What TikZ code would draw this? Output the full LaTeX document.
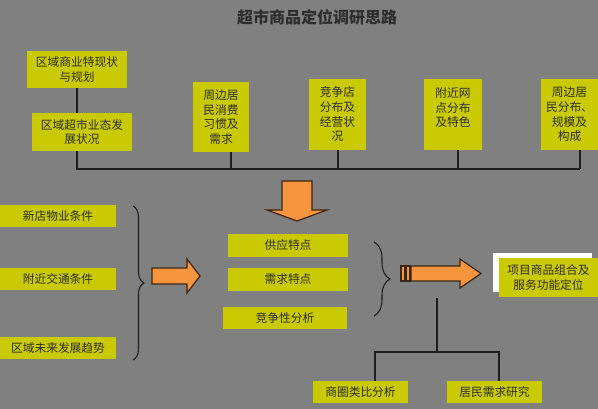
\documentclass[tikz,border=0pt]{standalone}
\usepackage{fontspec}
\newfontfamily\cjk{Noto Sans CJK SC}
\usepackage{tikz}
\usetikzlibrary{calc,decorations.pathreplacing}
\def\px{0.75pt}
\definecolor{bggray}{HTML}{808080}
\definecolor{boxyellow}{HTML}{CACA02}
\definecolor{boxtext}{HTML}{2E2E2E}
\definecolor{arroworange}{HTML}{F7943E}
\definecolor{arrowedge}{HTML}{3A2614}
\definecolor{linkgray}{HTML}{1E1E1E}
\tikzset{
	box/.style={fill=boxyellow, text=boxtext, inner sep=0pt, align=center,
		font=\cjk\fontsize{8.8}{11}\selectfont},
	link/.style={draw=linkgray, line width=1.3pt},
	bigarrow/.style={fill=arroworange, draw=arrowedge, line width=0.9pt, line join=miter},
	curly/.style={draw=linkgray, line width=0.8pt, decorate, decoration={brace, amplitude=#1}}
}

\begin{document}
\begin{tikzpicture}[x=\px, y=-\px]
		%%%%% START %%%%%
		\useasboundingbox (0, 0) rectangle (598, 409);
		\fill[bggray] (0, 0) rectangle (598, 409);
		
		\node[text=boxtext, font=\cjk\bfseries\fontsize{12}{14}\selectfont] (title) at (317, 17) {超市商品定位调研思路};
		
		% top row
		\node[box, minimum width=100*\px, minimum height=37*\px] (regionplan) at (77, 69.5) {区域商业特现状\\与规划};
		\node[box, minimum width=100*\px, minimum height=38*\px] (regionformat) at (82, 132) {区域超市业态发\\展状况};
		\node[box, minimum width=56*\px, minimum height=70*\px] (habits) at (221, 117) {周边居\\民消费\\习惯及\\需求};
		\node[box, minimum width=57*\px, minimum height=71*\px] (rivals) at (337.5, 114.5) {竞争店\\分布及\\经营状\\况};
		\node[box, minimum width=58*\px, minimum height=71*\px] (outlets) at (453, 114.5) {附近网\\点分布\\及特色\\\mbox{}};
		\node[box, minimum width=57*\px, minimum height=71*\px] (residents) at (569.5, 114.5) {周边居\\民分布、\\规模及\\构成};
		
		\coordinate (bus3) at (231, 169);
		\coordinate (bus4) at (338, 169);
		\coordinate (bus5) at (458, 169);
		\coordinate (bus6) at (580, 169);
		\draw[link] (regionplan.south) -- (regionplan.south |- regionformat.north);
		\draw[link] (regionplan.south |- regionformat.south) |- (bus6);
		\draw[link] (habits.south -| bus3) -- (bus3);
		\draw[link] (rivals.south -| bus4) -- (bus4);
		\draw[link] (outlets.south -| bus5) -- (bus5);
		\draw[link] (residents.south -| bus6) -- (bus6);
		
		\draw[bigarrow] (282, 181) -- (312, 181) -- (312, 210) -- (327, 210) -- (297, 221) -- (267, 210) -- (282, 210) -- cycle;
		
		% left column
		\node[box, minimum width=116*\px, minimum height=22*\px] (property) at (58, 216) {新店物业条件};
		\node[box, minimum width=116*\px, minimum height=22*\px] (traffic) at (58, 279) {附近交通条件};
		\node[box, minimum width=116*\px, minimum height=22*\px] (trend) at (58, 348) {区域未来发展趋势};
		\draw[curly=8.25pt] (133, 206) -- (133, 360);
		
		\draw[bigarrow] (152, 268) -- (187, 268) -- (187, 259) -- (200, 276) -- (187, 293) -- (187, 284) -- (152, 284) -- cycle;
		
		% middle column
		\node[box, minimum width=120*\px, minimum height=23*\px] (supply) at (288, 245.5) {供应特点};
		\node[box, minimum width=120*\px, minimum height=23*\px] (demand) at (288, 279.5) {需求特点};
		\node[box, minimum width=124*\px, minimum height=22*\px] (compete) at (285, 318) {竞争性分析};
		\draw[curly=12pt] (374, 242) -- (374, 316);
		
		\draw[bigarrow] (401, 266) rectangle (405, 281);
		\draw[bigarrow] (406, 266) rectangle (410, 281);
		\draw[bigarrow] (411, 266) -- (460, 266) -- (460, 259) -- (481, 273.5) -- (460, 288) -- (460, 281) -- (411, 281) -- cycle;
		
		% result
		\fill[white] (493, 253) rectangle (592, 292);
		\node[box, minimum width=99*\px, minimum height=39*\px] (target) at (548.5, 277.5) {项目商品组合及\\服务功能定位};
		
		% bottom row
		\node[box, minimum width=95*\px, minimum height=22*\px] (analog) at (360.5, 392) {商圈类比分析};
		\node[box, minimum width=95*\px, minimum height=22*\px] (survey) at (494.5, 392) {居民需求研究};
		\coordinate (forktop) at (437, 298);
		\coordinate (fork) at (437, 352);
		\coordinate (forkL) at (375, 352);
		\coordinate (forkR) at (499, 352);
		\draw[link] (forktop) -- (fork);
		\draw[link] (analog.north -| forkL) -- (forkL) -- (forkR) -- (survey.north -| forkR);
		
		%%%%% END %%%%%
	\end{tikzpicture}
\end{document}
